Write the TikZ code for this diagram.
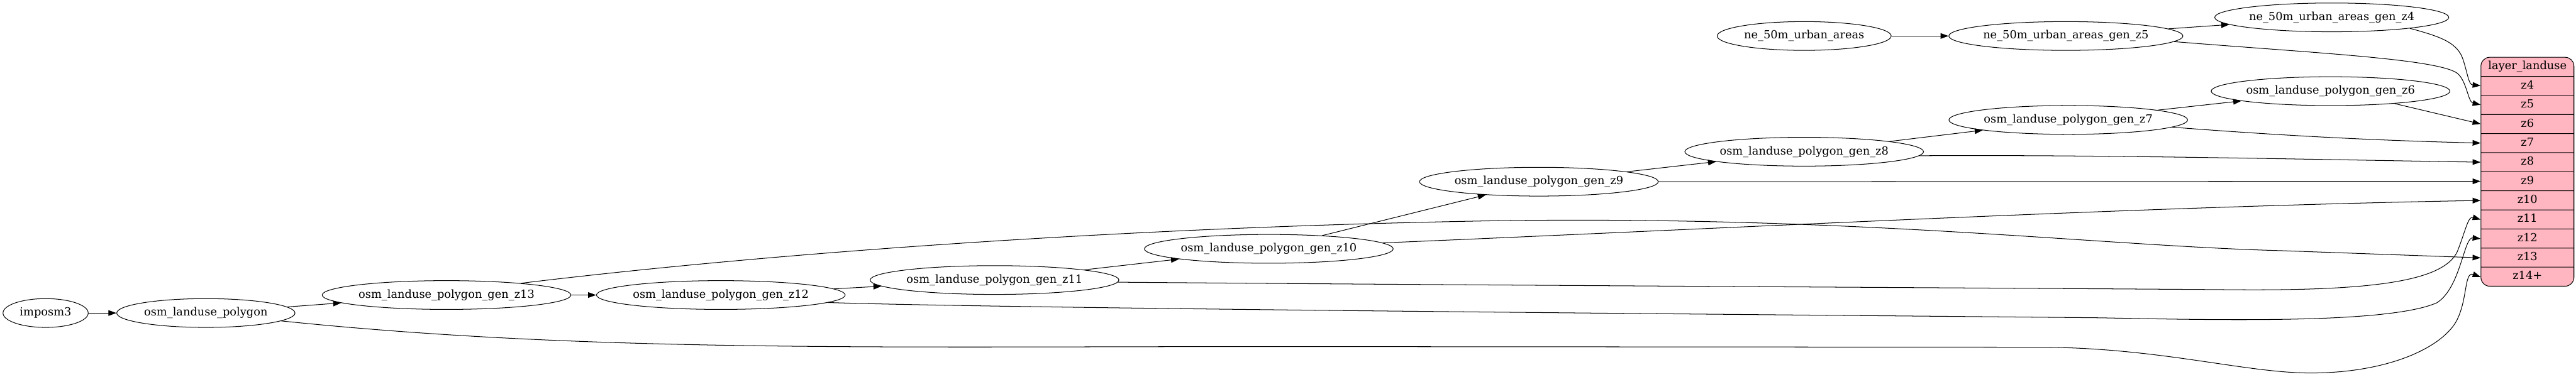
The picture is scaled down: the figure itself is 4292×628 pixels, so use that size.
\documentclass[tikz,border=0pt]{standalone}
\usepackage{fontspec}
\setmainfont{DejaVu Serif}
\usetikzlibrary{shapes.geometric,shapes.multipart,arrows.meta,calc}
\definecolor{recpink}{HTML}{FFB6C1}
\newcommand{\rowtxt}[1]{\rule[-7.9pt]{0pt}{23.06pt}#1}

\begin{document}
\begin{tikzpicture}[x=0.75pt,y=-0.75pt,line width=0.8pt,
  >={Triangle[length=10pt,width=7pt]},
  lnode/.style={ellipse,draw,inner sep=0pt,minimum height=36pt,minimum width=#1,
    font=\fontsize{14pt}{17pt}\selectfont},
  recbox/.style={rectangle split,rectangle split parts=12,draw,fill=recpink,
    rounded corners=11pt,inner xsep=0pt,inner ysep=0pt,text width=116.25pt,
    align=center,anchor=north west,font=\fontsize{14pt}{17pt}\selectfont}]
\useasboundingbox (0,0) rectangle (4292,628);

\node[lnode=106.5pt] (P0) at (76,522) {imposm3};
\node[lnode=222.75pt] (P1) at (343,522) {osm\_landuse\_polygon};
\node[lnode=306pt] (G13) at (744,492) {osm\_landuse\_polygon\_gen\_z13};
\node[lnode=306pt] (G12) at (1201,492) {osm\_landuse\_polygon\_gen\_z12};
\node[lnode=306pt] (G11) at (1657,467) {osm\_landuse\_polygon\_gen\_z11};
\node[lnode=306pt] (G10) at (2114,415) {osm\_landuse\_polygon\_gen\_z10};
\node[lnode=296pt] (G9) at (2564,303) {osm\_landuse\_polygon\_gen\_z9};
\node[lnode=295.5pt] (G8) at (3006,253) {osm\_landuse\_polygon\_gen\_z8};
\node[lnode=295pt] (G7) at (3446,200) {osm\_landuse\_polygon\_gen\_z7};
\node[lnode=295pt] (G6) at (3883,152) {osm\_landuse\_polygon\_gen\_z6};

\node[lnode=217.5pt] (U0) at (3006,60) {ne\_50m\_urban\_areas};
\node[lnode=283.5pt] (U5) at (3442,60) {ne\_50m\_urban\_areas\_gen\_z5};
\node[lnode=283.5pt] (U4) at (3885,29) {ne\_50m\_urban\_areas\_gen\_z4};

\node[recbox] (R) at (4133,95) {\rowtxt{layer\_landuse}
  \nodepart{two}\rowtxt{z4}
  \nodepart{three}\rowtxt{z5}
  \nodepart{four}\rowtxt{z6}
  \nodepart{five}\rowtxt{z7}
  \nodepart{six}\rowtxt{z8}
  \nodepart{seven}\rowtxt{z9}
  \nodepart{eight}\rowtxt{z10}
  \nodepart{nine}\rowtxt{z11}
  \nodepart{ten}\rowtxt{z12}
  \nodepart{eleven}\rowtxt{z13}
  \nodepart{twelve}\rowtxt{z14+}};
\foreach \k in {4,...,14}
  \coordinate (R\k) at ($(R.north west)!{(\k-2.5)/12}!(R.south west)$);

\path[->] (P0) edge (P1);
\path[->] (P1) edge (G13);
\path[->] (G13) edge (G12);
\path[->] (G12) edge (G11);
\path[->] (G11) edge (G10);
\path[->] (G10) edge (G9);
\path[->] (G9) edge (G8);
\path[->] (G8) edge (G7);
\path[->] (G7) edge (G6);
\path[->] (U0) edge (U5);
\path[->] (U5) edge (U4);

\draw[->] (U4.-8) .. controls (4070,62) and (4095,72) .. (4104,100)
  .. controls (4112,125) and (4113,141) .. (R4);
\draw[->] (U5.-3) .. controls (3850,88) and (4060,98) .. (4094,122)
  .. controls (4110,135) and (4112,170) .. (R5);
\draw[->] (G6.-11) -- (R6);
\draw[->] (G7.-4) .. controls (3800,226) and (3950,234) .. (R7);
\draw[->] (G8.-2) .. controls (3500,258) and (3800,265) .. (R8);
\draw[->] (G9.east) -- (R9);
\draw[->] (G10.3) .. controls (2900,380) and (3550,345) .. (R10);
\draw[->] (G11.-1) .. controls (2500,476) and (3300,480) .. (3700,483)
  .. controls (3950,486) and (4070,470) .. (4094,420)
  .. controls (4108,385) and (4112,360) .. (R11);
\draw[->] (G12.-4) .. controls (1700,515) and (3000,525) .. (3500,530)
  .. controls (3700,534) and (3980,540) .. (4060,505)
  .. controls (4100,480) and (4105,395) .. (R12);
\draw[->] (G13.9) .. controls (1300,420) and (1900,378) .. (2500,368)
  .. controls (3100,360) and (3500,410) .. (3800,418) -- (R13);
\draw[->] (P1.-6) .. controls (1000,590) and (1500,577) .. (2200,578) -- (3400,579)
  .. controls (3600,580) and (3740,622) .. (3850,622)
  .. controls (3970,622) and (4060,585) .. (4090,540)
  .. controls (4112,505) and (4105,452) .. (R14);
\end{tikzpicture}
\end{document}
